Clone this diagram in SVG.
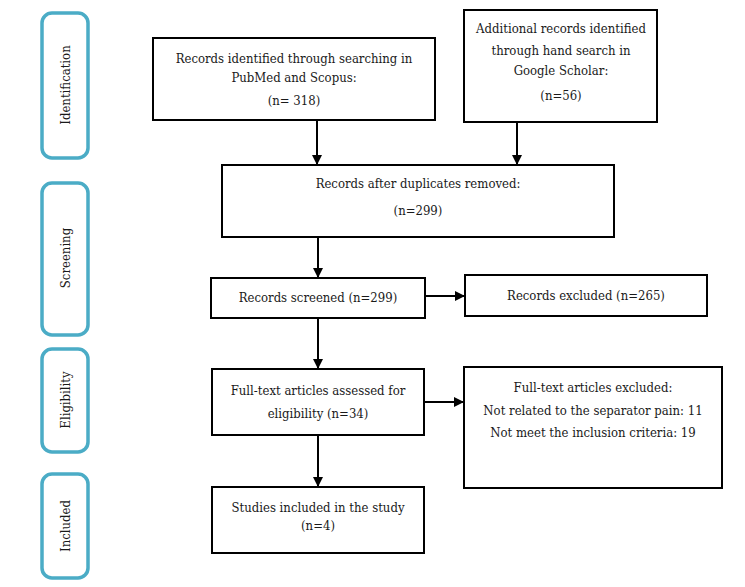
<svg xmlns="http://www.w3.org/2000/svg" width="745" height="587" viewBox="0 0 745 587">
<defs>
<marker id="ah" markerWidth="10" markerHeight="10" refX="9" refY="5" orient="auto" markerUnits="userSpaceOnUse">
<path d="M0,0 L10,5 L0,10 Z" fill="#000"/>
</marker>
<style>
.stage{fill:#fff;stroke:#4BACC6;stroke-width:3.5}
.box{fill:#fff;stroke:#000;stroke-width:2}
.t{font-family:"DejaVu Serif Condensed","DejaVu Serif",serif;font-stretch:condensed;font-size:13px;fill:#1a1a1a;text-anchor:middle}
.s{font-family:"DejaVu Serif Condensed","DejaVu Serif",serif;font-stretch:condensed;font-size:13px;fill:#1a1a1a;text-anchor:middle}
.c{stroke:#000;stroke-width:2;fill:none;marker-end:url(#ah)}
</style>
</defs>
<rect width="745" height="587" fill="#fff"/>
<g id="stage-identification"><rect class="stage" x="42" y="13" width="46" height="145" rx="10"/><text class="s" transform="translate(70,85) rotate(-90)">Identification</text></g>
<g id="stage-screening"><rect class="stage" x="42" y="183" width="46" height="152" rx="10"/><text class="s" transform="translate(70,258) rotate(-90)">Screening</text></g>
<g id="stage-eligibility"><rect class="stage" x="42" y="349" width="46" height="103" rx="10"/><text class="s" transform="translate(70,400) rotate(-90)">Eligibility</text></g>
<g id="stage-included"><rect class="stage" x="42" y="474" width="46" height="104" rx="10"/><text class="s" transform="translate(70,526) rotate(-90)">Included</text></g>
<g id="n1"><rect class="box" x="153" y="38" width="282" height="82"/><text class="t" x="294" y="63">Records identified through searching in</text><text class="t" x="294" y="82">PubMed and Scopus:</text><text class="t" x="294" y="105">(n= 318)</text></g>
<g id="n2"><rect class="box" x="464" y="10" width="193" height="112"/><text class="t" x="561" y="33">Additional records identified</text><text class="t" x="561" y="55">through hand search in</text><text class="t" x="561" y="75">Google Scholar:</text><text class="t" x="561" y="100">(n=56)</text></g>
<g id="n3"><rect class="box" x="222" y="165" width="392" height="72"/><text class="t" x="418" y="188">Records after duplicates removed:</text><text class="t" x="418" y="215">(n=299)</text></g>
<g id="n4"><rect class="box" x="211" y="278" width="214" height="40"/><text class="t" x="318" y="302">Records screened (n=299)</text></g>
<g id="n5"><rect class="box" x="465" y="275" width="242" height="41"/><text class="t" x="586" y="300">Records excluded (n=265)</text></g>
<g id="n6"><rect class="box" x="212" y="369" width="212" height="66"/><text class="t" x="318" y="395">Full-text articles assessed for</text><text class="t" x="318" y="418">eligibility (n=34)</text></g>
<g id="n7"><rect class="box" x="464" y="367" width="258" height="121"/><text class="t" x="593" y="392">Full-text articles excluded:</text><text class="t" x="593" y="415">Not related to the separator pain: 11</text><text class="t" x="593" y="437">Not meet the inclusion criteria: 19</text></g>
<g id="n8"><rect class="box" x="212" y="487" width="212" height="66"/><text class="t" x="318" y="512">Studies included in the study</text><text class="t" x="318" y="530">(n=4)</text></g>
<g id="connectors">
<line class="c" x1="317" y1="121" x2="317" y2="164"/>
<line class="c" x1="517" y1="123" x2="517" y2="164"/>
<line class="c" x1="318" y1="238" x2="318" y2="277"/>
<line class="c" x1="426" y1="296" x2="464" y2="296"/>
<line class="c" x1="318" y1="319" x2="318" y2="368"/>
<line class="c" x1="425" y1="402" x2="463" y2="402"/>
<line class="c" x1="318" y1="436" x2="318" y2="486"/>
</g>
</svg>
